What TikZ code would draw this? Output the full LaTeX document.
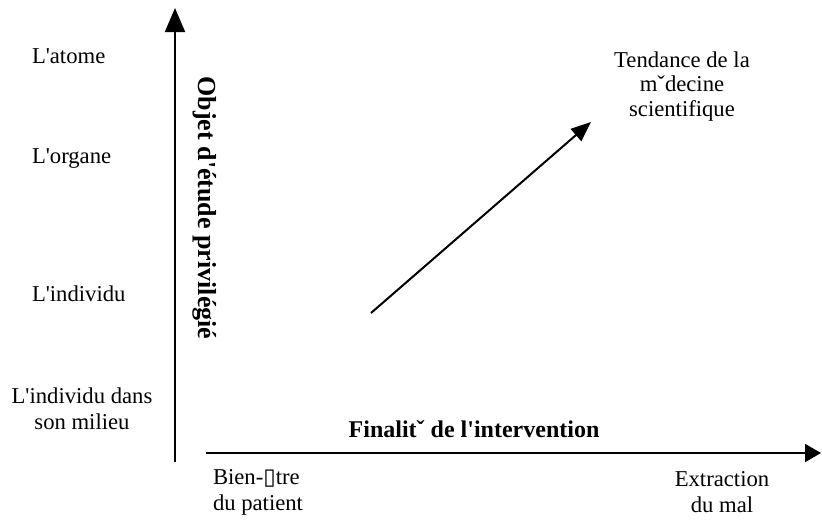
\documentclass[tikz,border=0pt]{standalone}
\usepackage{fontspec}
\setmainfont{Liberation Serif}[Ligatures=TeXOff]
\newfontfamily\boxfont{DejaVu Sans}
\usetikzlibrary{arrows.meta}
\begin{document}
\begin{tikzpicture}[x=0.75pt,y=-0.75pt,
  every node/.style={inner sep=0pt, outer sep=0pt},
  lbl/.style={font=\fontsize{17}{19.3}\selectfont},
  axistitle/.style={font=\fontsize{18}{21}\selectfont\bfseries},
  vtitle/.style={font=\fontsize{19.5}{22}\selectfont\bfseries},
  axisline/.style={line width=1.5pt},
  vtip/.style={-{Triangle[length=18pt,width=15pt]}},
  htip/.style={-{Triangle[length=12pt,width=13.5pt]}},
  dtip/.style={-{Triangle[length=15pt,width=12pt]}}]
\useasboundingbox (0,0) rectangle (822,522);
% axes
\coordinate (yb) at (175,462);
\coordinate (yt) at (175,8);
\coordinate (xl) at (206,453);
\coordinate (xr) at (821,453);
\coordinate (ds) at (371,313);
\coordinate (de) at (591,122);
\draw[axisline,vtip] (yb) -- (yt);
\draw[axisline,htip] (xl) -- (xr);
\draw[axisline,dtip] (ds) -- (de);
% left labels
\node[lbl,anchor=base west] (atome) at (32,63) {L'atome};
\node[lbl,anchor=base west] (organe) at (32,163) {L'organe};
\node[lbl,anchor=base west] (indiv) at (32,301) {L'individu};
\node[lbl,anchor=base,align=center] (milieu) at (82,429) {L'individu dans\\son milieu};
% vertical axis title
\node[vtitle,anchor=base,rotate=-90] (ytitle) at (198,208) {Objet d'étude privilégié};
% horizontal axis title
\node[axistitle,anchor=base] (xtitle) at (474,437) {Finalitˇ de l'intervention};
% bottom labels
\node[lbl,anchor=base west,align=left] (bien) at (213,510) {Bien-{\boxfont ▯}tre\\du patient};
\node[lbl,anchor=base,align=center] (extr) at (722,512) {Extraction\\du mal};
% trend label
\node[lbl,anchor=base,align=center,font=\fontsize{17}{18.3}\selectfont] (trend) at (682,116) {Tendance de la\\mˇdecine~\\scientifique};
\end{tikzpicture}
\end{document}
